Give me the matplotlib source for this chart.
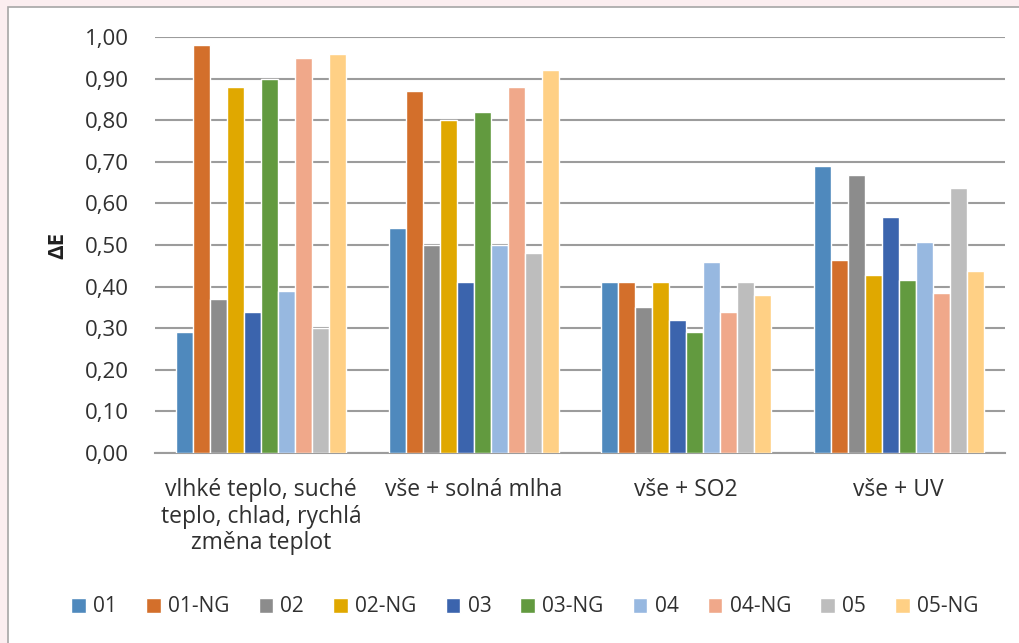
import matplotlib.pyplot as plt
import matplotlib.patches as mpatches
import numpy as np

plt.rcParams['font.family'] = ['Open Sans', 'DejaVu Sans']

categories = ['vlhké teplo, suché\nteplo, chlad, rychlá\nzměna teplot',
              'vše + solná mlha', 'vše + SO2', 'vše + UV']
series = ['01', '01-NG', '02', '02-NG', '03', '03-NG', '04', '04-NG', '05', '05-NG']
values = [
    [0.29, 0.54, 0.41, 0.69],
    [0.98, 0.87, 0.41, 0.465],
    [0.37, 0.50, 0.35, 0.668],
    [0.88, 0.80, 0.41, 0.428],
    [0.34, 0.41, 0.32, 0.567],
    [0.90, 0.82, 0.29, 0.416],
    [0.39, 0.50, 0.46, 0.508],
    [0.95, 0.88, 0.34, 0.385],
    [0.30, 0.48, 0.41, 0.637],
    [0.96, 0.92, 0.38, 0.437],
]
colors = ['#4f89bd', '#d36f2b', '#8c8c8c', '#e0a800', '#3b64ad',
          '#629a3f', '#97b8e0', '#f0a88a', '#bdbdbd', '#ffd085']
yticks = np.arange(0, 1.01, 0.1)

fig = plt.figure(figsize=(10.19, 6.43), dpi=100)
fig.patch.set_facecolor('#fbeef0')
fig.patches.append(mpatches.Rectangle((8 / 1019, -0.01), 1.02, 1 - 7 / 643 + 0.01,
                                      transform=fig.transFigure, facecolor='white',
                                      edgecolor='#a6a6a6', linewidth=1.2, zorder=-5))

ax = fig.add_axes([155 / 1019, 1 - 453 / 643, 850 / 1019, 416 / 643])
ax.set_facecolor('none')

x = np.arange(len(categories))
slot = 0.08
for i, (name, vals) in enumerate(zip(series, values)):
    offs = (i - (len(series) - 1) / 2) * slot
    ax.bar(x + offs, vals, width=slot, color=colors[i], edgecolor='white',
           linewidth=1.0, label=name, zorder=3)

ax.set_xlim(-0.5, len(categories) - 0.5)
ax.set_ylim(0, 1.0)
ax.set_yticks(yticks)
ax.set_yticklabels([f'{v:.2f}'.replace('.', ',') for v in yticks])
ax.set_xticks(x)
ax.set_xticklabels(categories, linespacing=1.15)
ax.yaxis.grid(True, color='#9c9c9c', linewidth=1.5, zorder=0)
ax.set_axisbelow(True)
for s in ['top', 'right', 'left']:
    ax.spines[s].set_visible(False)
ax.spines['bottom'].set_color('#9c9c9c')
ax.spines['bottom'].set_linewidth(1.5)
ax.tick_params(axis='y', length=0, pad=19, labelsize=16, labelcolor='#303030')
ax.tick_params(axis='x', length=0, pad=18, labelsize=16.5, labelcolor='#303030')
ax.set_ylabel('ΔE', fontsize=16, fontweight='bold', color='#202020', labelpad=12)

leg = fig.legend(loc='center', bbox_to_anchor=(0.515, 1 - 607 / 643), ncol=10,
                 frameon=False, fontsize=15, handlelength=0.7, handleheight=0.7,
                 handletextpad=0.35, columnspacing=1.4)
for t in leg.get_texts():
    t.set_color('#303030')

fig.savefig('out.png', dpi=100, facecolor=fig.get_facecolor())
